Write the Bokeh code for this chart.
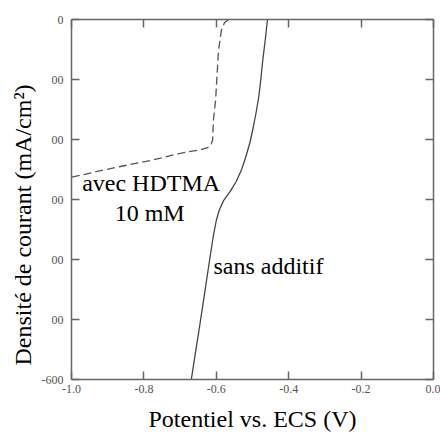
from bokeh.plotting import figure
from bokeh.models import FixedTicker, LinearAxis, Label, Range1d, Title
from bokeh.embed import file_html
from bokeh.resources import INLINE

# sans additif (solid)
sans_v = [-0.4586, -0.461, -0.464, -0.468, -0.472, -0.477, -0.483, -0.490, -0.498,
          -0.507, -0.518, -0.530, -0.545, -0.562, -0.580, -0.592, -0.600, -0.608,
          -0.617, -0.627, -0.637, -0.647, -0.658, -0.669]
sans_i = [0, -13, -30, -50, -70, -100, -130, -155, -180, -205, -228, -250, -270, -287,
          -302, -318, -335, -360, -395, -435, -475, -515, -557, -600]

# avec HDTMA 10 mM (dashed)
hdtma_v = [-0.566, -0.577, -0.586, -0.594, -0.602, -0.608, -0.610, -0.614, -0.622,
           -0.644, -0.699, -0.727, -0.782, -0.865, -0.920, -1.0]
hdtma_i = [0, -5, -18, -52, -135, -168, -200, -208, -213, -217, -223, -227, -235,
           -245, -252, -263]

x_ticks = [-1.0, -0.8, -0.6, -0.4, -0.2, 0.0]
x_tick_labels = ["-1.0", "-0.8", "-0.6", "-0.4", "-0.2", "0.0"]
y_ticks = [0, -100, -200, -300, -400, -500, -600]
y_tick_labels = ["0", "00", "00", "00", "00", "00", "-600"]

x_title = "Potentiel vs. ECS (V)"
y_title = "Densité de courant (mA/cm²)"

FONT = "Liberation Serif"
AX = "#666666"

p = figure(width=440, height=436, output_backend="svg", toolbar_location=None,
           x_range=Range1d(-1.0, 0.0), y_range=Range1d(-600, 0),
           min_border_left=71, min_border_right=7, min_border_top=19, min_border_bottom=57,
           x_axis_label=x_title)
p.grid.visible = False
p.outline_line_color = None
p.background_fill_color = "white"
p.border_fill_color = "white"

def style(ax):
    ax.axis_line_color = AX
    ax.axis_line_width = 1.5
    ax.major_tick_line_color = AX
    ax.major_tick_line_width = 1.5
    ax.major_tick_in = 8
    ax.major_tick_out = 0
    ax.minor_tick_line_color = None
    ax.major_label_text_font = FONT
    ax.major_label_text_color = "#555555"
    ax.major_label_text_font_size = "12px"
    ax.axis_label_text_font = FONT
    ax.axis_label_text_font_size = "24px"
    ax.axis_label_text_font_style = "normal"
    ax.axis_label_text_color = "black"

xa = p.xaxis[0]
xa.ticker = FixedTicker(ticks=x_ticks)
xa.major_label_overrides = dict(zip(x_ticks, x_tick_labels))
style(xa)
xa.major_label_standoff = 5
xa.axis_label_standoff = 10

ya = p.yaxis[0]
ya.ticker = FixedTicker(ticks=y_ticks)
ya.major_label_overrides = dict(zip(y_ticks, y_tick_labels))
style(ya)
ya.major_label_standoff = 8

top = LinearAxis(ticker=FixedTicker(ticks=x_ticks))
style(top)
top.major_label_overrides = {t: "" for t in x_ticks}
top.major_label_standoff = 0
p.add_layout(top, "above")

right = LinearAxis(ticker=FixedTicker(ticks=y_ticks))
style(right)
right.major_label_overrides = {t: "" for t in y_ticks}
right.major_label_standoff = 0
p.add_layout(right, "right")

yt = Title(text=y_title, text_font=FONT, text_font_size="24px", text_font_style="normal",
           text_color="black", align="left", offset=14, standoff=6)
p.add_layout(yt, "left")

p.line(sans_v, sans_i, line_color="#444444", line_width=1.3)
p.line(hdtma_v, hdtma_i, line_color="#555555", line_width=1.3, line_dash="8 4")

for txt, x, y, align in [("avec HDTMA", -0.780, -273, "center"),
                         ("10 mM", -0.784, -323, "center"),
                         ("sans additif", -0.608, -410, "left")]:
    p.add_layout(Label(x=x, y=y, text=txt, text_font=FONT, text_font_size="24px",
                       text_align=align, text_baseline="middle", text_color="black"))

open("out.html", "w").write(file_html(p, INLINE))
